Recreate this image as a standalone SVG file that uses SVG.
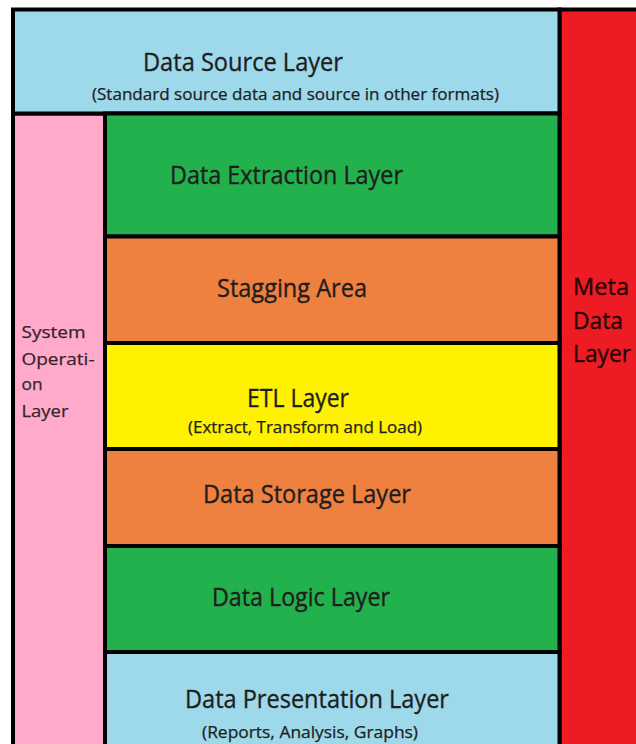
<svg xmlns="http://www.w3.org/2000/svg" width="636" height="744" viewBox="0 0 636 744">
  <style>
    .band { stroke: #000; stroke-width: 4; }
    .t { font-family: "Open Sans", "Noto Sans", "DejaVu Sans", sans-serif; fill: #1e1e1e; stroke: #1e1e1e; stroke-width: 0.35; }
    .h { font-size: 25px; }
    .s { font-size: 16px; stroke-width: 0.25; }
    .side { font-size: 17px; fill: #33252c; stroke: #33252c; stroke-width: 0.25; }
    .meta { font-size: 23px; fill: #260707; stroke: #260707; }
  </style>
  <rect x="0" y="0" width="636" height="744" fill="#fff"/>

  <!-- side columns -->
  <g id="meta-data-layer">
    <rect class="band" x="559.5" y="9.5" width="90" height="750" fill="#ED1C24"/>
    <text class="t meta" x="573" y="295" textLength="56" lengthAdjust="spacingAndGlyphs">Meta</text>
    <text class="t meta" x="573" y="329" textLength="50" lengthAdjust="spacingAndGlyphs">Data</text>
    <text class="t meta" x="573" y="361.5" textLength="58" lengthAdjust="spacingAndGlyphs">Layer</text>
  </g>

  <g id="system-operation-layer">
    <rect class="band" x="13" y="113.5" width="92" height="650" fill="#FFAACA"/>
    <text class="t side" x="21.5" y="338" textLength="64" lengthAdjust="spacingAndGlyphs">System</text>
    <text class="t side" x="21.5" y="364.5" textLength="73" lengthAdjust="spacingAndGlyphs">Operati-</text>
    <text class="t side" x="21.5" y="390" textLength="21" lengthAdjust="spacingAndGlyphs">on</text>
    <text class="t side" x="21.5" y="416.5" textLength="47" lengthAdjust="spacingAndGlyphs">Layer</text>
  </g>

  <!-- top band -->
  <g id="data-source-layer">
    <rect class="band" x="13" y="9.5" width="546.5" height="104" fill="#9DD9EA"/>
    <text class="t h" x="143" y="71" textLength="200" lengthAdjust="spacingAndGlyphs">Data Source Layer</text>
    <text class="t s" x="92" y="100" textLength="407" lengthAdjust="spacingAndGlyphs">(Standard source data and source in other formats)</text>
  </g>

  <!-- stacked layers -->
  <g id="data-extraction-layer">
    <rect class="band" x="105" y="113.5" width="454.5" height="123" fill="#22B14C"/>
    <text class="t h" x="170" y="183.5" textLength="233" lengthAdjust="spacingAndGlyphs">Data Extraction Layer</text>
  </g>

  <g id="staging-area">
    <rect class="band" x="105" y="236.5" width="454.5" height="106.5" fill="#EE8040"/>
    <text class="t h" x="217" y="297" textLength="150" lengthAdjust="spacingAndGlyphs">Stagging Area</text>
  </g>

  <g id="etl-layer">
    <rect class="band" x="105" y="343" width="454.5" height="106" fill="#FFF200"/>
    <text class="t h" x="247" y="406.5" textLength="102" lengthAdjust="spacingAndGlyphs">ETL Layer</text>
    <text class="t s" x="188" y="432.5" textLength="234" lengthAdjust="spacingAndGlyphs">(Extract, Transform and Load)</text>
  </g>

  <g id="data-storage-layer">
    <rect class="band" x="105" y="449" width="454.5" height="97" fill="#EE8040"/>
    <text class="t h" x="203" y="503" textLength="208" lengthAdjust="spacingAndGlyphs">Data Storage Layer</text>
  </g>

  <g id="data-logic-layer">
    <rect class="band" x="105" y="546" width="454.5" height="106" fill="#22B14C"/>
    <text class="t h" x="212" y="606" textLength="178" lengthAdjust="spacingAndGlyphs">Data Logic Layer</text>
  </g>

  <g id="data-presentation-layer">
    <rect class="band" x="105" y="652" width="454.5" height="110" fill="#9DD9EA"/>
    <text class="t h" x="185" y="708" textLength="264" lengthAdjust="spacingAndGlyphs">Data Presentation Layer</text>
    <text class="t s" x="202" y="737.5" textLength="216" lengthAdjust="spacingAndGlyphs">(Reports, Analysis, Graphs)</text>
  </g>

  <!-- no connectors in this layout -->
  <g id="connectors"/>
</svg>
